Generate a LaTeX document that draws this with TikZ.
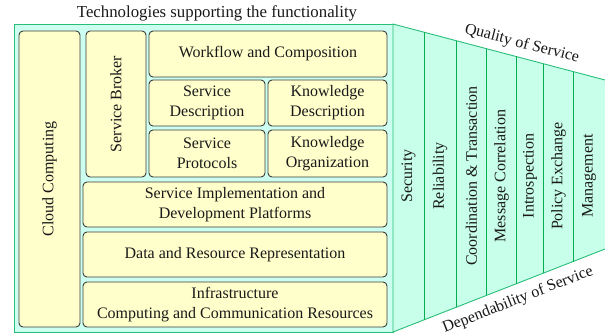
\documentclass[tikz,border=0pt]{standalone}
\usepackage{fontspec}
\setmainfont{Liberation Serif}
\usetikzlibrary{calc}

\definecolor{framefill}{RGB}{204,255,240}
\definecolor{panelfill}{RGB}{200,255,235}
\definecolor{framegreen}{RGB}{40,190,120}
\definecolor{linegreen}{RGB}{0,176,80}
\definecolor{boxfill}{RGB}{255,255,204}
\definecolor{boxline}{RGB}{60,60,60}
\definecolor{txt}{RGB}{25,25,25}

\tikzset{
  blk/.style={draw=boxline, fill=boxfill, line width=0.9pt, rounded corners=4pt,
    inner sep=0pt, outer sep=0pt, align=center, text=txt,
    font=\fontsize{16}{20}\selectfont},
  qos/.style={text=txt, inner sep=0pt, font=\fontsize{16}{20}\selectfont},
  divider/.style={draw=linegreen, line width=0.9pt},
}

\begin{document}
\begin{tikzpicture}[x=1pt, y=-1pt]
\useasboundingbox (0,0) rectangle (605,336);

% title above the stack
\node[qos, font=\fontsize{16.8}{20}\selectfont] (title) at (217,13) {Technologies supporting the functionality};

% outer frame of the technology stack
\draw[draw=framegreen, fill=framefill, line width=0.9pt] (14.5,24) rectangle (393,332);

% cross-cutting side panel
\coordinate (tl) at (393,24);
\coordinate (tr) at (605,80);
\coordinate (br) at (605,249);
\coordinate (bl) at (393,332);
\fill[panelfill] (tl) -- (tr) -- (br) -- (bl) -- cycle;
\draw[draw=framegreen, line width=0.9pt] (tr) -- (tl) -- (bl) -- (br);

% column dividers of the side panel
\foreach \t in {0.146,0.297,0.443,0.580,0.708,0.849}
  \draw[divider] ($(tl)!\t!(tr)$) -- ($(bl)!\t!(br)$);

% column labels
\foreach \x/\name/\lbl in {408.5/sec/Security, 440/rel/Reliability,
    471.5/coord/Coordination \& Transaction, 501.5/msg/Message Correlation,
    530/intro/Introspection, 558.5/pol/Policy Exchange, 589/mgmt/Management}
  \node[qos, rotate=90] (\name) at (\x,176) {\lbl};

% panel edge labels
\node[qos, rotate=-14.5] (quality) at (522,44) {Quality of Service};
\node[qos, rotate=21.4] (depend) at (518,300) {Dependability of Service};

% technology blocks
\node[blk, rotate=90, minimum width=296pt, minimum height=61pt] (cloud) at (49.5,179) {Cloud Computing};
\node[blk, rotate=90, minimum width=146pt, minimum height=60pt] (broker) at (116,104) {Service Broker};
\node[blk, minimum width=238pt, minimum height=46pt] (wf) at (268,54) {Workflow and Composition};
\node[blk, minimum width=116pt, minimum height=46pt] (sdesc) at (207,103) {Service\\Description};
\node[blk, minimum width=119pt, minimum height=46pt] (kdesc) at (327.5,103) {Knowledge\\Description};
\node[blk, minimum width=116pt, minimum height=47pt] (sprot) at (207,153.5) {Service\\Protocols};
\node[blk, minimum width=119pt, minimum height=47pt] (korg) at (327.5,153.5) {Knowledge\\Organization};
\node[blk, minimum width=304pt, minimum height=45pt] (simpl) at (235,204.5) {Service Implementation and\\Development Platforms};
\node[blk, minimum width=304pt, minimum height=45pt] (data) at (235,254.5) {Data and Resource Representation};
\node[blk, minimum width=304pt, minimum height=45pt] (infra) at (235,304.5) {Infrastructure\\Computing and Communication Resources};
\end{tikzpicture}
\end{document}
